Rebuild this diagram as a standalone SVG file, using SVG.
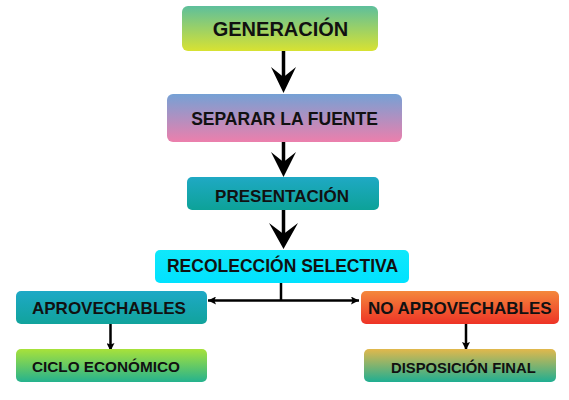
<svg xmlns="http://www.w3.org/2000/svg" width="569" height="400" viewBox="0 0 569 400">
<defs>
<linearGradient id="gGen" x1="0" y1="0" x2="0" y2="1"><stop offset="0" stop-color="#5dbf9c"/><stop offset="1" stop-color="#d8e232"/></linearGradient>
<linearGradient id="gSep" x1="0" y1="0" x2="0" y2="1"><stop offset="0" stop-color="#75a1d5"/><stop offset="1" stop-color="#ec7fac"/></linearGradient>
<linearGradient id="gPres" x1="0" y1="0" x2="0" y2="1"><stop offset="0" stop-color="#1fa9c4"/><stop offset="1" stop-color="#0da298"/></linearGradient>
<linearGradient id="gRec" x1="0" y1="0" x2="0" y2="1"><stop offset="0" stop-color="#10e8fb"/><stop offset="1" stop-color="#00e2ff"/></linearGradient>
<linearGradient id="gApr" x1="0" y1="0" x2="0" y2="1"><stop offset="0" stop-color="#1ea9c6"/><stop offset="1" stop-color="#11a39c"/></linearGradient>
<linearGradient id="gCic" x1="0" y1="0" x2="0" y2="1"><stop offset="0" stop-color="#a8e23a"/><stop offset="1" stop-color="#25b28e"/></linearGradient>
<linearGradient id="gNo" x1="0" y1="0" x2="0" y2="1"><stop offset="0" stop-color="#f4883c"/><stop offset="1" stop-color="#ee3326"/></linearGradient>
<linearGradient id="gDis" x1="0" y1="0" x2="0" y2="1"><stop offset="0" stop-color="#e2b84c"/><stop offset="1" stop-color="#1fae92"/></linearGradient>
<marker id="ah" viewBox="0 0 10 10" refX="10" refY="5" markerWidth="8" markerHeight="8" markerUnits="userSpaceOnUse" orient="auto"><path d="M0,0 L10,5 L0,10 L2,5 Z" fill="#000"/></marker>
</defs>
<style>
text{font-family:"Liberation Sans",Arial,sans-serif;font-weight:bold;fill:#111;}
.c{text-anchor:middle;}
.ln{stroke:#000;fill:none;}
.big{fill:#000;}
</style>
<g id="connectors">
<line class="ln" x1="283.5" y1="51" x2="283.5" y2="80" stroke-width="3.5"/>
<path class="big" d="M283.5,93 L271,67 L283.5,77 L296,67 Z"/>
<line class="ln" x1="283.5" y1="142" x2="283.5" y2="165" stroke-width="3.5"/>
<path class="big" d="M283.5,177 L271,152 L283.5,162 L296,152 Z"/>
<line class="ln" x1="283.5" y1="210" x2="283.5" y2="235" stroke-width="3.5"/>
<path class="big" d="M283.5,249 L269,223 L283.5,234 L298,223 Z"/>
<line class="ln" x1="281" y1="283" x2="281" y2="301" stroke-width="2.5"/>
<line class="ln" x1="281" y1="300.5" x2="208" y2="300.5" stroke-width="2.5" marker-end="url(#ah)"/>
<line class="ln" x1="281" y1="300.5" x2="359" y2="300.5" stroke-width="2.5" marker-end="url(#ah)"/>
<line class="ln" x1="110.5" y1="324" x2="110.5" y2="351" stroke-width="2.5" marker-end="url(#ah)"/>
<line class="ln" x1="466" y1="324" x2="466" y2="350" stroke-width="2.5" marker-end="url(#ah)"/>
</g>
<g id="generacion"><rect x="182" y="6" width="196" height="45" rx="6" fill="url(#gGen)"/><text class="c" x="280.5" y="36" font-size="20">GENERACIÓN</text></g>
<g id="separar"><rect x="167" y="94" width="235" height="48" rx="6" fill="url(#gSep)"/><text class="c" x="284.5" y="124.5" font-size="17.5">SEPARAR LA FUENTE</text></g>
<g id="presentacion"><rect x="187" y="177" width="192" height="33" rx="5" fill="url(#gPres)"/><text class="c" x="282" y="201.5" font-size="17">PRESENTACIÓN</text></g>
<g id="recoleccion"><rect x="155" y="250" width="254" height="33" rx="5" fill="url(#gRec)"/><text class="c" x="282.5" y="272" font-size="17.5">RECOLECCIÓN SELECTIVA</text></g>
<g id="aprovechables"><rect x="16" y="291" width="191" height="33" rx="5" fill="url(#gApr)"/><text x="32" y="313.5" font-size="17">APROVECHABLES</text></g>
<g id="ciclo"><rect x="16" y="349" width="191" height="33" rx="5" fill="url(#gCic)"/><text x="32" y="372" font-size="15.3">CICLO ECONÓMICO</text></g>
<g id="noaprovechables"><rect x="361" y="291" width="198" height="33" rx="5" fill="url(#gNo)"/><text x="368" y="313.5" font-size="17">NO APROVECHABLES</text></g>
<g id="disposicion"><rect x="364" y="349" width="192" height="33" rx="5" fill="url(#gDis)"/><text x="391" y="373" font-size="14.8">DISPOSICIÓN FINAL</text></g>
</svg>
